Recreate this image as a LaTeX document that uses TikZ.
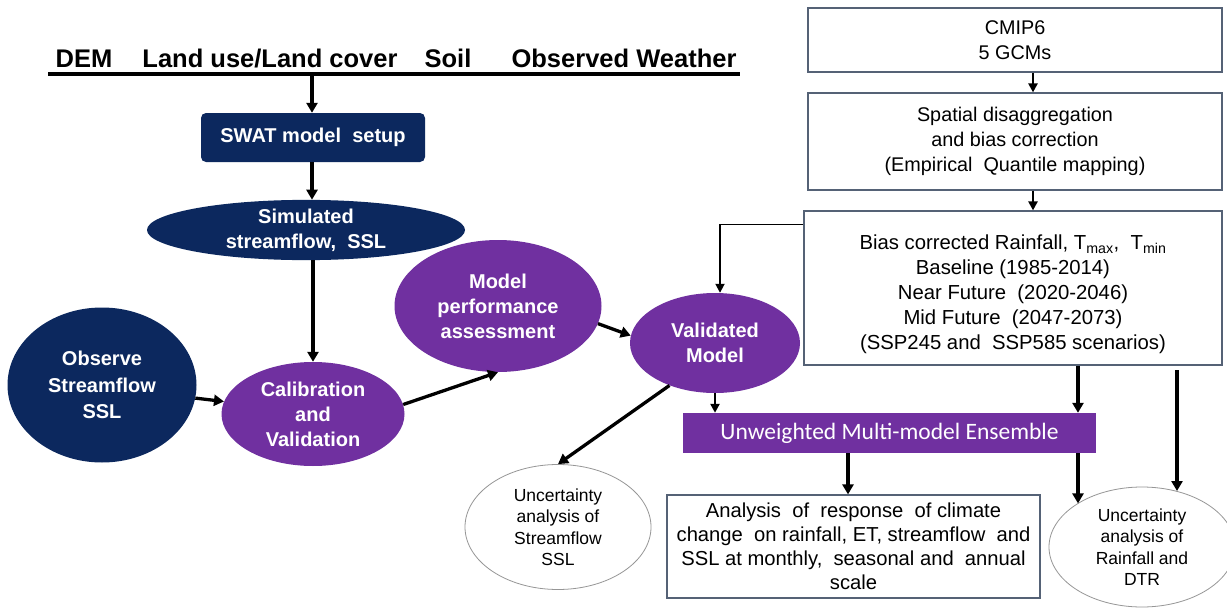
\documentclass[tikz,border=0pt]{standalone}
\usepackage{fontspec}
\setmainfont{Liberation Sans}
\newfontfamily\calib{Carlito}
\usetikzlibrary{arrows.meta,shapes.geometric,calc}
\definecolor{navy}{RGB}{12,40,94}
\definecolor{purp}{RGB}{112,48,160}
\definecolor{boxline}{RGB}{85,98,118}
\definecolor{ellline}{RGB}{150,150,150}
\tikzset{
  hdr/.style={font=\bfseries\fontsize{25.5}{28}\selectfont, inner sep=0pt, anchor=base},
  navybox/.style={rectangle, rounded corners=5pt, fill=navy, text=white, font=\bfseries\fontsize{20}{24}\selectfont, inner sep=0pt},
  navyell/.style={ellipse, fill=navy, text=white, align=center, font=\bfseries\fontsize{20}{25}\selectfont, inner sep=0pt},
  purpell/.style={ellipse, fill=purp, text=white, align=center, font=\bfseries\fontsize{20}{25}\selectfont, inner sep=0pt},
  whiteell/.style={ellipse, draw=ellline, line width=0.8pt, fill=white, align=center, font=\fontsize{17.5}{21.5}\selectfont, inner sep=0pt},
  infobox/.style={rectangle, draw=boxline, line width=1.2pt, fill=white, align=center, font=\fontsize{19.8}{24.8}\selectfont, inner sep=0pt},
  arr/.style={line width=3.3pt, -{Triangle[length=10pt,width=11pt]}},
  midarr/.style={line width=2.6pt, -{Triangle[length=9pt,width=9pt]}},
  thinarr/.style={line width=1.8pt, -{Triangle[length=9pt,width=9pt]}}
}
\begin{document}
\begin{tikzpicture}[x=1pt,y=-1pt]
\useasboundingbox[fill=white] (0,0) rectangle (1227,610);
% header
\node[hdr] (dem) at (84,67) {DEM};
\node[hdr] (lulc) at (270,67) {Land use/Land cover};
\node[hdr] (soil) at (448,67) {Soil};
\node[hdr] (weather) at (624,67) {Observed Weather};
\coordinate (bl) at (48,74);
\coordinate (br) at (740,74);
\coordinate (bsrc) at (312,74);
\draw[line width=3.2pt] (bl) -- (br);
% left chain
\node[navybox, minimum width=224pt, minimum height=49pt] (swat) at (313,137.5) {SWAT model\ \ setup};
\node[navyell, minimum width=318pt, minimum height=60pt] (sim) at (306,230) {Simulated\\streamflow,\ \ SSL};
\node[purpell, minimum width=183pt, minimum height=104pt] (calib) at (313,414) {Calibration\\and\\Validation};
\node[navyell, minimum width=189pt, minimum height=155pt, font=\bfseries\fontsize{20}{26.5}\selectfont] (obs) at (102,385) {Observe\\Streamflow\\SSL};
\node[purpell, minimum width=207pt, minimum height=132pt] (perf) at (498,306) {Model\\performance\\assessment};
\node[purpell, minimum width=170pt, minimum height=100pt] (valid) at (715,343) {Validated\\Model};
\node[whiteell, minimum width=186pt, minimum height=125pt] (uncsf) at (558,527) {Uncertainty\\analysis of\\Streamflow\\SSL};
% right chain
\node[infobox, minimum width=414pt, minimum height=64pt] (cmip) at (1015,40) {CMIP6\\5 GCMs};
\node[infobox, minimum width=414pt, minimum height=97pt] (spat) at (1015,141.5) {Spatial disaggregation\\and bias correction\\(Empirical\ \ Quantile mapping)};
\node[infobox, minimum width=418pt, minimum height=154pt, font=\fontsize{20.3}{25}\selectfont] (bias) at (1013,288) {\rule{0pt}{28pt}Bias corrected Rainfall, T\textsubscript{max}, \ T\textsubscript{min}\\Baseline (1985-2014)\\Near Future\ \ (2020-2046)\\Mid Future\ \ (2047-2073)\\(SSP245 and\ \ SSP585 scenarios)};
\node[rectangle, fill=purp, text=white, minimum width=413pt, minimum height=40pt, inner sep=0pt, font=\calib\fontsize{23.5}{26}\selectfont] (ens) at (889.5,433) {Unweighted Multi-model Ensemble};
\node[infobox, minimum width=373pt, minimum height=103pt, font=\fontsize{20.2}{24}\selectfont] (anal) at (853.5,546.5) {Analysis\ \ of\ \ response\ \ of\ climate\\change\ \ on rainfall,\ ET,\ streamflow\ \ and\\SSL at monthly,\ \ seasonal and\ \ annual\\scale};
\node[whiteell, minimum width=186pt, minimum height=120pt] (uncrf) at (1142,547) {Uncertainty\\analysis of\\Rainfall and\\DTR};
% connectors
\draw[arr] (bsrc) -- (swat.north -| bsrc);
\draw[arr] (swat.south -| bsrc) -- (sim.north -| bsrc);
\draw[arr] (sim.south -| calib.north) -- (calib.north);
\draw[arr] (obs.-8) -- (calib.172);
\draw[arr] (calib.6) -- (perf.south);
\draw[arr] (perf.-10) -- (valid.175);
\coordinate (elb) at ($(bias.north west)+(0,14)$);
\coordinate (vtop) at ($(valid.north)+(5,0)$);
\draw[thinarr] (elb) -| (vtop);
\draw[midarr] (valid.south) -- (valid.south |- ens.north);
\draw[arr] (valid.223) -- (uncsf.north);
\coordinate (cx) at (1033,0);
\draw[midarr] (cmip.south -| cx) -- (spat.north -| cx);
\draw[midarr] (spat.south -| cx) -- (bias.north -| cx);
\coordinate (ex) at (1078,0);
\draw[arr] (bias.south -| ex) -- (ens.north -| ex);
\coordinate (eb) at (ens.south -| ex);
\draw[arr] (eb) -- (eb |- uncrf.146);
\coordinate (ax) at (848,0);
\draw[arr] (ens.south -| ax) -- (anal.north -| ax);
\coordinate (rfsrc) at (1177,370);
\draw[arr] (rfsrc) -- (rfsrc |- uncrf.58);
\end{tikzpicture}
\end{document}
